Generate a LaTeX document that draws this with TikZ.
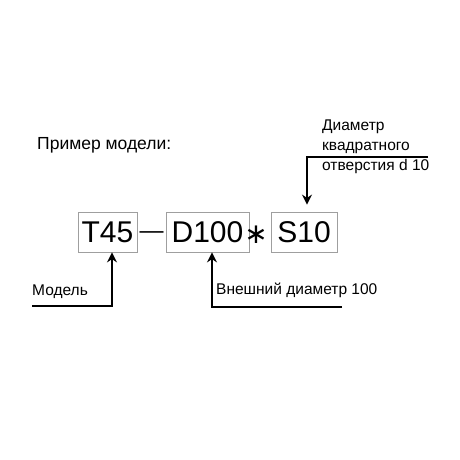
\documentclass[tikz,border=0pt]{standalone}
\usepackage{fontspec}
\setmainfont{Liberation Sans}
\newfontfamily\symbolfont{DejaVu Sans}
\usetikzlibrary{arrows.meta}

\tikzset{
  partbox/.style={draw=gray!75, line width=0.8pt, inner sep=0pt, minimum height=40pt,
    font=\fontsize{30}{30}\selectfont},
  callout/.style={font=\fontsize{15.5}{20}\selectfont, inner sep=0pt, anchor=west},
  pointer/.style={line width=1.8pt, -{Stealth[length=10pt,width=10pt]}}
}

\begin{document}
\begin{tikzpicture}[x=1pt,y=-1pt]
      \useasboundingbox (0,0) rectangle (460,460);

      \node [callout, font=\fontsize{17.5}{20}\selectfont] (title) at (37,145) {Пример модели:};

      \node [partbox, minimum width=59pt] (model) at (107.5,232) {T45};
      \node [font=\fontsize{24}{24}\selectfont, inner sep=0pt] (dash) at (151.5,235) {—};
      \node [partbox, minimum width=83pt] (outer) at (207.5,232) {D100};
      \node [font=\symbolfont\fontsize{28}{28}\selectfont, inner sep=0pt] (star) at (256,235) {∗};
      \node [partbox, minimum width=66pt] (square) at (304,232) {S10};

      \node [callout] (modeltext) at (32,292) {Модель};
      \node [callout] (outertext) at (216,290) {Внешний диаметр 100};
      \node [callout, align=left] (squaretext) at (322,147) {Диаметр\\квадратного\\отверстия d 10};

      \coordinate (modelfoot) at (32,306);
      \coordinate (outerfoot) at (342,307);
      \coordinate (squarefoot) at (428,157);

      \draw [pointer] (modelfoot) -| ([xshift=4.5pt]model.south);
      \draw [pointer] (outerfoot) -| ([xshift=4.5pt]outer.south);
      \draw [pointer] (squarefoot) -| ([xshift=3pt,yshift=7pt]square.north);

\end{tikzpicture}
\end{document}
